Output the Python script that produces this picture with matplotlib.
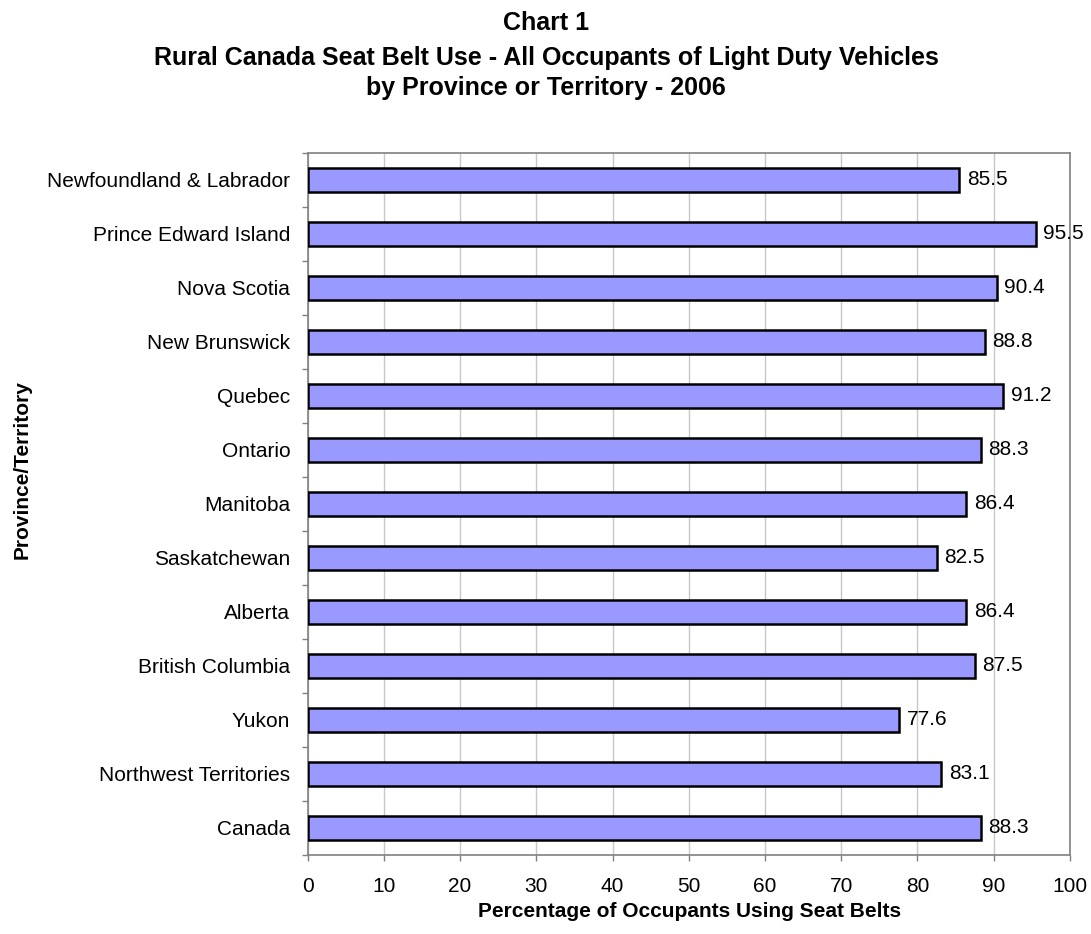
import matplotlib.pyplot as plt

plt.rcParams['font.family'] = ['Liberation Sans', 'DejaVu Sans']

# Rural seat belt use by province/territory, 2006 (top to bottom)
regions = [
    "Newfoundland & Labrador", "Prince Edward Island", "Nova Scotia",
    "New Brunswick", "Quebec", "Ontario", "Manitoba", "Saskatchewan",
    "Alberta", "British Columbia", "Yukon", "Northwest Territories", "Canada",
]
usage_pct = [85.5, 95.5, 90.4, 88.8, 91.2, 88.3, 86.4, 82.5, 86.4, 87.5, 77.6, 83.1, 88.3]
title_lines = [
    "Chart 1",
    "Rural Canada Seat Belt Use - All Occupants of Light Duty Vehicles",
    "by Province or Territory - 2006",
]

fig = plt.figure(figsize=(10.91, 9.34), dpi=100)
ax = fig.add_axes([0.2820, 0.0846, 0.6987, 0.7516])

ypos = list(range(len(regions)))[::-1]
ax.barh(ypos, usage_pct, height=0.43, color="#9999FF", edgecolor="black", linewidth=1.8, zorder=3)

for y, v in zip(ypos, usage_pct):
    ax.annotate(f"{v:.1f}", (v, y), xytext=(5.5, 0), textcoords="offset points",
                va="center", ha="left", fontsize=15, zorder=4, annotation_clip=False)

ax.set_xlim(0, 100)
ax.set_ylim(-0.5, len(regions) - 0.5)
ax.set_xticks(range(0, 101, 10))
ax.tick_params(axis="x", length=4.5, color="#808080", width=1, labelsize=15, pad=11)

# category labels at bar centres, tick marks at category boundaries
ax.set_yticks(ypos)
ax.set_yticklabels(regions, fontsize=15)
ax.tick_params(axis="y", which="major", length=0, pad=12.5)
ax.set_yticks([i - 0.5 for i in range(len(regions) + 1)], minor=True)
ax.tick_params(axis="y", which="minor", length=4.5, color="#808080", width=1)

ax.xaxis.grid(True, color="#C8C8C8", linewidth=1, zorder=0)
for s in ax.spines.values():
    s.set_color("#808080")
    s.set_linewidth(1.2)

fig.text(0.6317, 0.0182, "Percentage of Occupants Using Seat Belts", ha="center", va="baseline",
         fontsize=15, fontweight="bold")
fig.text(0.020, 0.4968, "Province/Territory", rotation=90, ha="center", va="center",
         fontsize=15, fontweight="bold")

for line, yb in zip(title_lines, [0.9679, 0.9304, 0.8983]):
    fig.text(0.5005, yb, line, ha="center", va="baseline", fontsize=18, fontweight="bold")

fig.savefig("out.png", dpi=100)
